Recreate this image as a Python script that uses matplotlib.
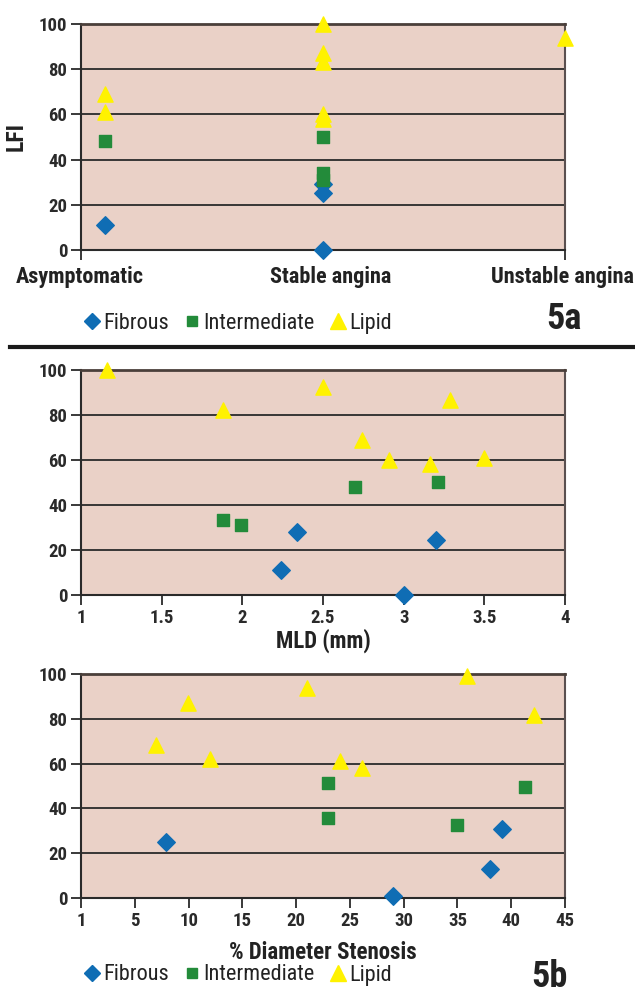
import numpy as np
import matplotlib.pyplot as plt

plt.rcParams['font.family'] = ['Roboto Condensed', 'DejaVu Sans']

# colours
bg = '#ead1c7'
c_fib = '#0f6db4'
c_int = '#238b3a'
c_lip = '#fff200'
txt = '#222222'

# 5a: LFI by symptom group (x: 1 = asymptomatic, 2 = stable, 3 = unstable)
cat_labels = ['Asymptomatic', 'Stable angina', 'Unstable angina']
a_fib_x = [1.1, 2.0, 2.0, 2.0]
a_fib_y = [11, 29, 25, 0]
a_int_x = [1.1, 2.0, 2.0, 2.0]
a_int_y = [48, 50, 34, 31]
a_lip_x = [1.1, 1.1, 2.0, 2.0, 2.0, 2.0, 2.0, 3.0]
a_lip_y = [69, 61, 100, 87, 83, 60, 58, 94]

# 5b top: LFI vs MLD
m_fib_x = [2.24, 2.34, 3.0, 3.2]
m_fib_y = [11, 28, 0, 24.5]
m_int_x = [1.88, 1.99, 2.7, 3.21]
m_int_y = [33.5, 31, 48, 50]
m_lip_x = [1.16, 1.88, 2.5, 2.74, 2.91, 3.16, 3.29, 3.5]
m_lip_y = [100, 82, 92.5, 69, 60, 58, 86.5, 61]
mld_ticks = [1, 1.5, 2, 2.5, 3, 3.5, 4]
mld_labels = ['1', '1.5', '2', '2.5', '3', '3.5', '4']

# 5b bottom: LFI vs % diameter stenosis
s_fib_x = [7.9, 29.0, 38.0, 39.1]
s_fib_y = [25, 1, 13, 31]
s_int_x = [23.0, 23.0, 35.0, 41.3]
s_int_y = [51.5, 35.5, 32.5, 49.5]
s_lip_x = [7.0, 9.9, 12.0, 21.0, 24.1, 26.1, 35.9, 42.1]
s_lip_y = [68.5, 87, 62, 93.5, 61, 58, 99, 81.5]
sten_ticks = [0, 5, 10, 15, 20, 25, 30, 35, 40, 45]
sten_labels = ['1', '5', '10', '15', '20', '25', '30', '35', '40', '45']

y_ticks = [0, 20, 40, 60, 80, 100]
series_names = ['Fibrous', 'Intermediate', 'Lipid']


def style_ax(ax, xt, xl):
    ax.set_facecolor(bg)
    ax.set_ylim(0, 100)
    ax.set_yticks(y_ticks, [str(v) for v in y_ticks], fontweight='bold')
    ax.set_xticks(xt, xl, fontweight='bold')
    for y in [20, 40, 60, 80]:
        ax.axhline(y, color='#2a2a2a', lw=1.3, zorder=1)
    for s in ['left', 'bottom']:
        ax.spines[s].set_color('#2a2a2a')
        ax.spines[s].set_linewidth(1.5)
    ax.spines['top'].set_color('#4a3f3a')
    ax.spines['top'].set_linewidth(2)
    ax.spines['right'].set_color('#5a5050')
    ax.spines['right'].set_linewidth(1.5)
    ax.tick_params(direction='out', length=7, width=1.3, color='#2a2a2a',
                   labelsize=13.5, labelcolor='#2a2a2a', pad=3)


def scatter3(ax, fx, fy, ix, iy, lx, ly):
    ax.scatter(fx, fy, marker='D', s=80, color=c_fib, zorder=3, clip_on=False)
    ax.scatter(ix, iy, marker='s', s=75, color=c_int, zorder=3, clip_on=False)
    ax.scatter(lx, ly, marker='^', s=120, color=c_lip, zorder=4, clip_on=False)


def legend(fig, y):
    h = [plt.Line2D([], [], ls='', marker='D', ms=8, color=c_fib),
         plt.Line2D([], [], ls='', marker='s', ms=7.5, color=c_int),
         plt.Line2D([], [], ls='', marker='^', ms=11, color=c_lip)]
    fig.legend(h, series_names, loc='center left', bbox_to_anchor=(84 / 635, y), ncol=3,
               frameon=False, fontsize=16, handlelength=0.7, handletextpad=0.15,
               columnspacing=0.7, labelcolor=txt, borderaxespad=0, borderpad=0)


fig = plt.figure(figsize=(6.35, 9.94), dpi=100)

ax1 = fig.add_axes([0.1276, 0.7485, 0.7622, 0.2274])
ax1.set_xlim(1, 3)
style_ax(ax1, [1, 3], ['', ''])
scatter3(ax1, a_fib_x, a_fib_y, a_int_x, a_int_y, a_lip_x, a_lip_y)
ax1.set_ylabel('LFI', fontsize=17, fontweight='bold', labelpad=8, color=txt)
for xc, lab in zip([0.995, 2.03, 2.99], cat_labels):
    ax1.text(xc, -0.07, lab, transform=ax1.get_xaxis_transform(), ha='center', va='top',
             fontsize=16, fontweight='bold', color=txt)
legend(fig, 1 - 323 / 994)
fig.text(564 / 635, 1 - 319 / 994, '5a', fontsize=26, fontweight='bold', ha='center',
         va='center', color=txt)
fig.add_artist(plt.Line2D([10 / 635, 1.0], [1 - 347 / 994] * 2, color='#1a1a1a', lw=3))

ax2 = fig.add_axes([0.1276, 0.4014, 0.7622, 0.2264])
ax2.set_xlim(1, 4)
style_ax(ax2, mld_ticks, mld_labels)
scatter3(ax2, m_fib_x, m_fib_y, m_int_x, m_int_y, m_lip_x, m_lip_y)
ax2.set_xlabel('MLD (mm)', fontsize=16.5, fontweight='bold', labelpad=1, color=txt)

ax3 = fig.add_axes([0.1276, 0.0966, 0.7622, 0.2254])
ax3.set_xlim(0, 45)
style_ax(ax3, sten_ticks, sten_labels)
scatter3(ax3, s_fib_x, s_fib_y, s_int_x, s_int_y, s_lip_x, s_lip_y)
ax3.set_xlabel('% Diameter Stenosis', fontsize=16.5, fontweight='bold', labelpad=8, color=txt)
legend(fig, 1 - 975 / 994)
fig.text(549 / 635, 1 - 977 / 994, '5b', fontsize=26, fontweight='bold', ha='center',
         va='center', color=txt)

fig.savefig('out.png', dpi=100)
